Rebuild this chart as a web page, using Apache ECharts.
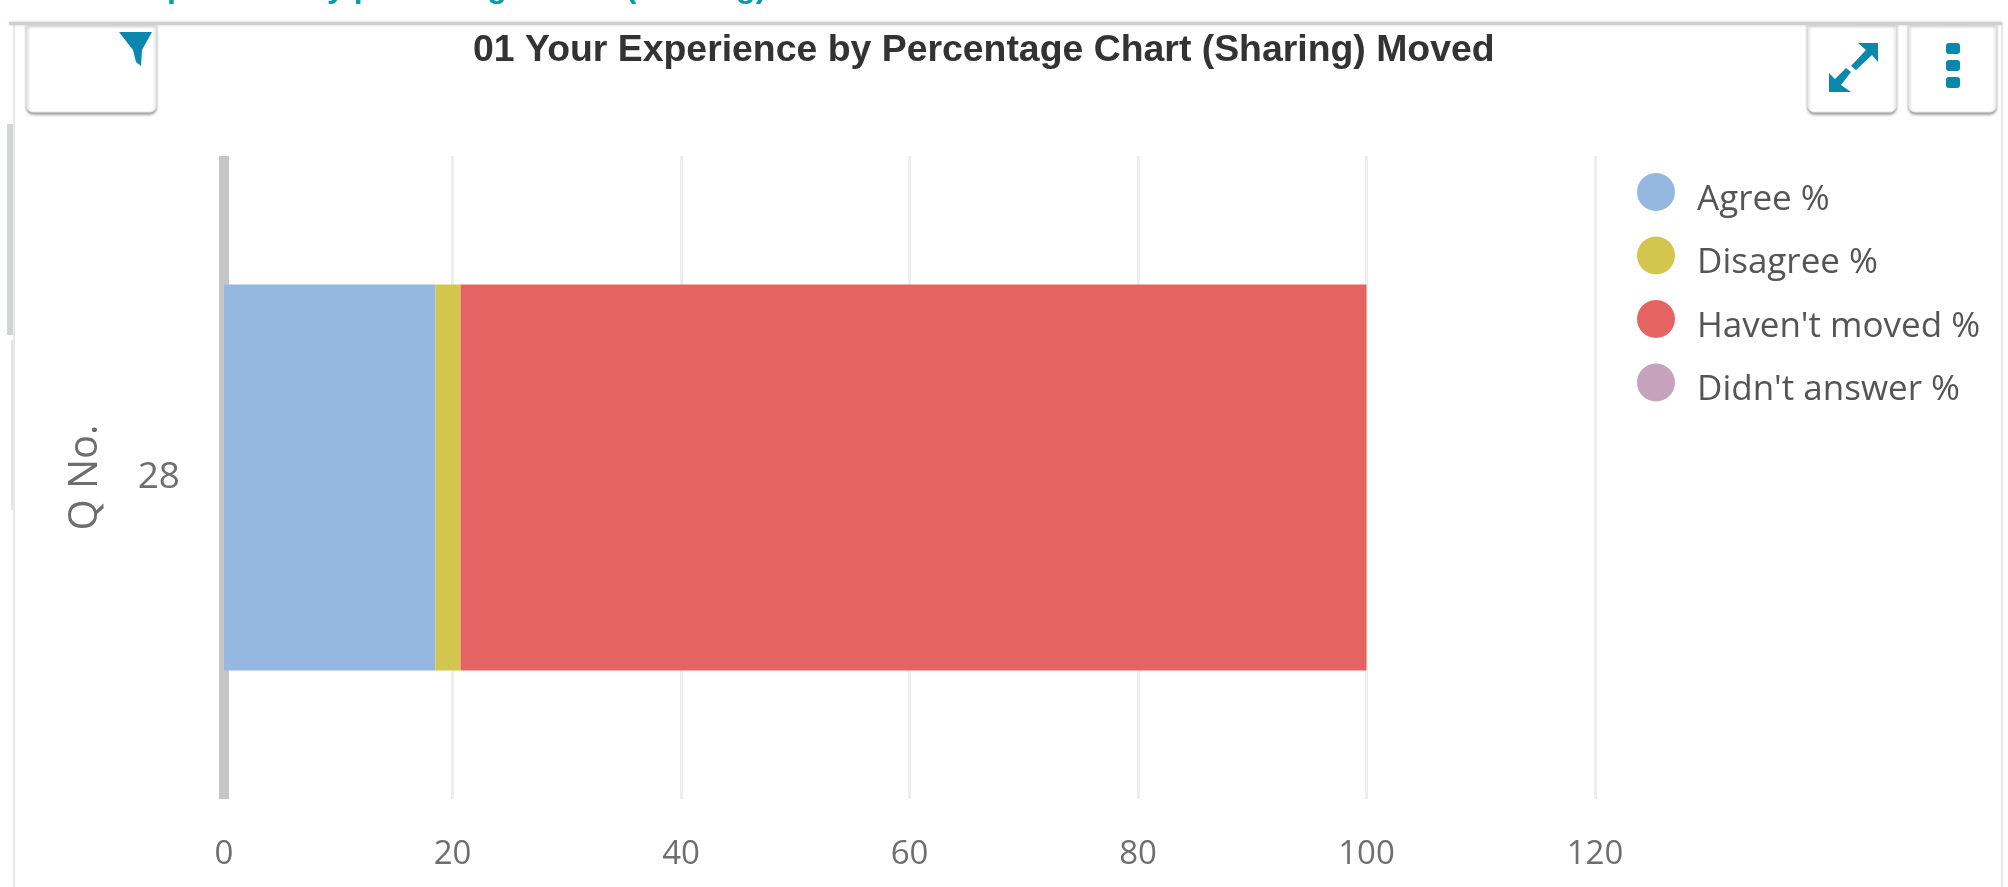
<!DOCTYPE html>
<html>
<head>
<meta charset="utf-8">
<title>01 Your Experience by Percentage Chart (Sharing) Moved</title>
<style>
  html, body { margin: 0; padding: 0; background: #fff; }
  #chart { width: 2008px; height: 887px; }
</style>
<script src="https://cdn.jsdelivr.net/npm/echarts@6/dist/echarts.min.js"></script>
</head>
<body>
<div id="chart"></div>
<script>
var questions = ['28'];
var seriesNames = ['Agree %', 'Disagree %', "Haven't moved %", "Didn't answer %"];
var agree = [18.5];
var disagree = [2.2];
var haventMoved = [79.3];
var didntAnswer = [0];
var seriesColors = ['#95b8e0', '#d3c64f', '#e66363', '#c6a2bc'];
var seriesValues = [agree, disagree, haventMoved, didntAnswer];

var TEAL = '#0a87ad';
var FONT = '"Open Sans", sans-serif';

// white button card, only the bottom edge carries a shadow
function card(x, y, w, h) {
    return {
        type: 'rect',
        shape: { x: x, y: y, width: w, height: h, r: [0, 0, 6, 6] },
        style: { fill: '#fff', stroke: '#f0f0f0', lineWidth: 1, shadowBlur: 3, shadowOffsetY: 2, shadowColor: 'rgba(0,0,0,0.4)' },
        silent: true
    };
}

function arrow(points) {
    return { type: 'polygon', shape: { points: points }, style: { fill: TEAL }, silent: true };
}

function dot(y) {
    return { type: 'rect', shape: { x: 1946, y: y, width: 14, height: 11, r: 3 }, style: { fill: TEAL }, silent: true };
}

var chrome = [
    // clipped heading of the section above
    { type: 'text', x: 4, y: -28, style: { text: '01 Your Experience by percentage Chart (Sharing)', fill: '#0a9aa8', font: 'bold 32px "Liberation Sans"' }, silent: true },
    // panel edges
    { type: 'rect', shape: { x: 14, y: 24, width: 1988, height: 870 }, style: { fill: '#fff', stroke: '#e8e8e8', lineWidth: 2 }, silent: true },
    { type: 'rect', shape: { x: 7, y: 124, width: 6, height: 211 }, style: { fill: '#d2d4d6' }, silent: true },
    { type: 'rect', shape: { x: 11, y: 340, width: 2, height: 170 }, style: { fill: '#e4e4e4' }, silent: true },
    card(27, 24, 129, 88),
    card(1808, 24, 88, 88),
    card(1909, 24, 87, 88),
    { type: 'rect', shape: { x: 9, y: 22, width: 1993, height: 3 }, style: { fill: '#cfcfcf', shadowBlur: 3, shadowColor: 'rgba(0,0,0,0.2)' }, silent: true },
    // filter icon
    { type: 'polygon', shape: { points: [[119, 32], [152, 32], [142, 50], [141, 66], [136, 62], [133, 50]] }, style: { fill: TEAL }, silent: true },
    // expand icon
    arrow([[1858, 43], [1878, 43], [1878, 62], [1872, 55], [1856, 70], [1851, 66], [1866, 50]]),
    arrow([[1829, 92], [1829, 73], [1835, 79], [1846, 68], [1851, 72], [1841, 85], [1851, 92]]),
    // menu icon
    dot(43), dot(60), dot(77)
];

var chart = echarts.init(document.getElementById('chart'));
chart.setOption({
    animation: false,
    backgroundColor: '#fff',
    textStyle: { fontFamily: FONT },
    title: {
        text: '01 Your Experience by Percentage Chart (Sharing) Moved',
        left: 473,
        top: 32,
        padding: 0,
        textStyle: { fontFamily: '"Liberation Sans"', fontWeight: 'bold', fontSize: 37.4, color: '#333' }
    },
    legend: {
        orient: 'vertical',
        left: 1637,
        top: 173,
        padding: 0,
        itemGap: 19,
        itemWidth: 38,
        itemHeight: 38,
        icon: 'circle',
        data: seriesNames,
        // labels sit a little lower than their circles
        formatter: function (name) { return '{t|' + name + '}'; },
        textStyle: {
            rich: {
                t: { fontFamily: FONT, fontSize: 35, color: '#555', lineHeight: 51, verticalAlign: 'bottom', padding: [0, 0, 0, 17] }
            }
        }
    },
    graphic: { elements: chrome.map(function (el) { el.z = -10; return el; }) },
    grid: { left: 224, right: 413, top: 156, bottom: 88, containLabel: false },
    xAxis: {
        type: 'value',
        min: 0,
        max: 120,
        interval: 20,
        axisLine: { show: false },
        axisTick: { show: false },
        axisLabel: { fontSize: 33, color: '#6e6e6e', margin: 39, fontFamily: FONT },
        splitLine: { show: true, lineStyle: { color: '#eeeeee', width: 3 } }
    },
    yAxis: {
        type: 'category',
        data: questions,
        name: 'Q No.',
        nameLocation: 'middle',
        nameGap: 118,
        nameTextStyle: { fontSize: 40, color: '#6e6e6e', fontFamily: FONT },
        axisLine: { show: true, lineStyle: { color: '#c6c6c6', width: 10, cap: 'butt' } },
        axisTick: { show: false },
        axisLabel: { fontSize: 37, color: '#6e6e6e', margin: 44, fontFamily: FONT }
    },
    series: seriesNames.map(function (name, i) {
        return {
            name: name,
            type: 'bar',
            stack: 'total',
            barWidth: '60%',
            data: seriesValues[i],
            itemStyle: { color: seriesColors[i] }
        };
    })
});
</script>
</body>
</html>
